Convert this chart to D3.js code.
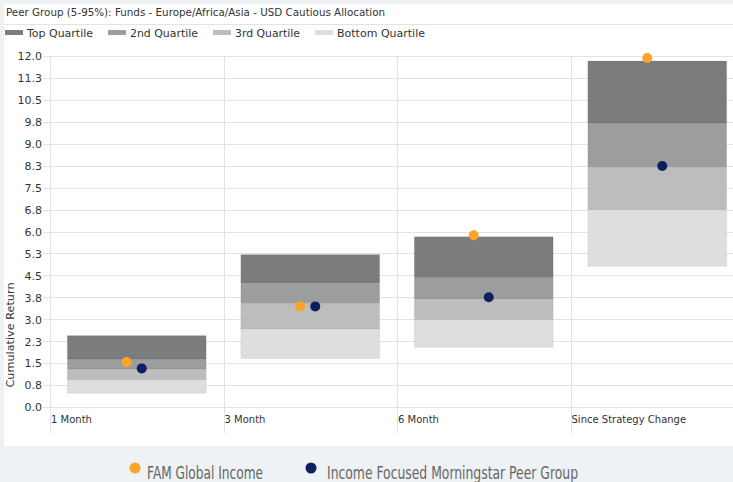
<!DOCTYPE html>
<html>
<head>
<meta charset="utf-8">
<script src="https://cdn.jsdelivr.net/npm/d3@7"></script>
<style>
  body { margin: 0; background: #eff2f4; }
  svg { display: block; }
  text { font-family: "DejaVu Sans", Verdana, sans-serif; }
</style>
</head>
<body>
<svg width="733" height="482"></svg>
<script>
const svg = d3.select("svg"),
  width = 733,
  height = 482;

// Data
const categories = ["1 Month", "3 Month", "6 Month", "Since Strategy Change"];
const quartileNames = ["Top Quartile", "2nd Quartile", "3rd Quartile", "Bottom Quartile"];
const quartileColors = ["#7b7c7d", "#9c9d9e", "#bdbdbd", "#dedede"];
// quartile edges from top (95%) to bottom (5%)
const p95 = [2.44, 5.21, 5.82, 11.83];
const p75 = [1.64, 4.23, 4.42, 9.71];
const p50 = [1.3, 3.54, 3.68, 8.21];
const p25 = [0.93, 2.67, 2.99, 6.74];
const p05 = [0.47, 1.66, 2.04, 4.81];
const famValues = [1.54, 3.44, 5.87, 11.93];
const peerValues = [1.32, 3.44, 3.75, 8.24];
const seriesNames = ["FAM Global Income", "Income Focused Morningstar Peer Group"];
const seriesColors = ["#f9a526", "#0e1f5e"];
const yTicks = d3.range(0, 12.01, 0.75);

// panel
svg.append("rect").attr("x", 4).attr("y", 4).attr("width", width).attr("height", 442).attr("fill", "#fff");
svg.append("line").attr("x1", 4).attr("x2", width).attr("y1", 24.5).attr("y2", 24.5)
  .attr("stroke", "#e3e3e3");

// title
svg.append("text").attr("x", 6).attr("y", 16).attr("font-size", 11).attr("fill", "#333")
  .attr("textLength", 379).attr("lengthAdjust", "spacingAndGlyphs")
  .text("Peer Group (5-95%): Funds - Europe/Africa/Asia - USD Cautious Allocation");

// top legend
const legX = [5, 108, 213, 315];
const legW = [66, 68, 65, 88];
const leg = svg.append("g").selectAll("g").data(quartileNames).join("g")
  .attr("transform", (d, i) => `translate(${legX[i]},0)`);
leg.append("rect").attr("y", 30).attr("width", 18).attr("height", 5)
  .attr("fill", (d, i) => quartileColors[i]);
leg.append("text").attr("x", 22).attr("y", 37).attr("font-size", 11).attr("fill", "#333")
  .attr("textLength", (d, i) => legW[i]).attr("lengthAdjust", "spacingAndGlyphs")
  .text(d => d);

// scales
const y = d3.scaleLinear().domain([0, 12]).range([407, 56]);
const x = d3.scaleBand().domain(categories).range([50, 744]).padding(0);
const dotOffset = d3.scalePoint().domain(seriesNames).range([-10, 5]);

// gridlines
const g = svg.append("g");
g.selectAll(".hgrid").data(yTicks).join("line")
  .attr("x1", 43).attr("x2", width)
  .attr("y1", d => Math.round(y(d)) + 0.5).attr("y2", d => Math.round(y(d)) + 0.5)
  .attr("stroke", "#e2e2e2");
const vlines = categories.map(c => x(c)).concat([x.range()[1]]);
g.selectAll(".vgrid").data(vlines).join("line")
  .attr("x1", d => Math.round(d) + 0.5).attr("x2", d => Math.round(d) + 0.5)
  .attr("y1", 56).attr("y2", 433)
  .attr("stroke", "#e2e2e2");

// y axis labels
const yAxis = d3.axisLeft(y).tickValues(yTicks).tickFormat(d3.format(".1f")).tickSize(0).tickPadding(0);
svg.append("g").attr("transform", "translate(42,0)").call(yAxis)
  .call(a => a.select(".domain").remove())
  .selectAll("text").attr("font-size", 11).attr("fill", "#333")
  .attr("font-family", "DejaVu Sans, Verdana, sans-serif").attr("dy", "0.35em");

svg.append("text").attr("transform", "translate(14,335) rotate(-90)")
  .attr("text-anchor", "middle").attr("font-size", 11).attr("fill", "#333")
  .attr("textLength", 105).attr("lengthAdjust", "spacingAndGlyphs")
  .text("Cumulative Return");

// x labels
svg.append("g").selectAll("text").data(categories).join("text")
  .attr("x", d => x(d) + 1).attr("y", 423).attr("font-size", 10).attr("fill", "#333")
  .text(d => d);

// quartile boxes
const edges = [p95, p75, p50, p25, p05];
const inset = x.bandwidth() * 0.1;
const boxes = [];
categories.forEach((c, ci) => {
  for (let q = 0; q < 4; q++) {
    boxes.push({ c, q, hi: edges[q][ci], lo: edges[q + 1][ci] });
  }
});
svg.append("g").selectAll("rect").data(boxes).join("rect")
  .attr("x", d => x(d.c) + inset)
  .attr("width", x.bandwidth() - 2 * inset)
  .attr("y", d => y(d.hi))
  .attr("height", d => y(d.lo) - y(d.hi))
  .attr("fill", d => quartileColors[d.q])
  .attr("stroke", "rgba(0,0,0,0.06)");

// dots
const dots = [];
categories.forEach((c, ci) => {
  dots.push({ c, s: seriesNames[0], v: famValues[ci], color: seriesColors[0] });
  dots.push({ c, s: seriesNames[1], v: peerValues[ci], color: seriesColors[1] });
});
svg.append("g").selectAll("circle").data(dots).join("circle")
  .attr("cx", d => x(d.c) + x.bandwidth() / 2 + dotOffset(d.s))
  .attr("cy", d => y(d.v))
  .attr("r", 5)
  .attr("fill", d => d.color);

// bottom legend
const bx = [135, 311];
const bw = [116, 251];
const bl = svg.append("g").selectAll("g").data(seriesNames).join("g")
  .attr("transform", (d, i) => `translate(${bx[i]},0)`);
bl.append("circle").attr("cy", 468).attr("r", 5.5).attr("fill", (d, i) => seriesColors[i]);
bl.append("text").attr("x", (d, i) => i === 0 ? 12 : 16).attr("y", 479)
  .attr("font-family", "'Open Sans', sans-serif").attr("font-size", 18.5).attr("fill", "#666")
  .attr("textLength", (d, i) => bw[i]).attr("lengthAdjust", "spacingAndGlyphs")
  .text(d => d);
</script>
</body>
</html>
